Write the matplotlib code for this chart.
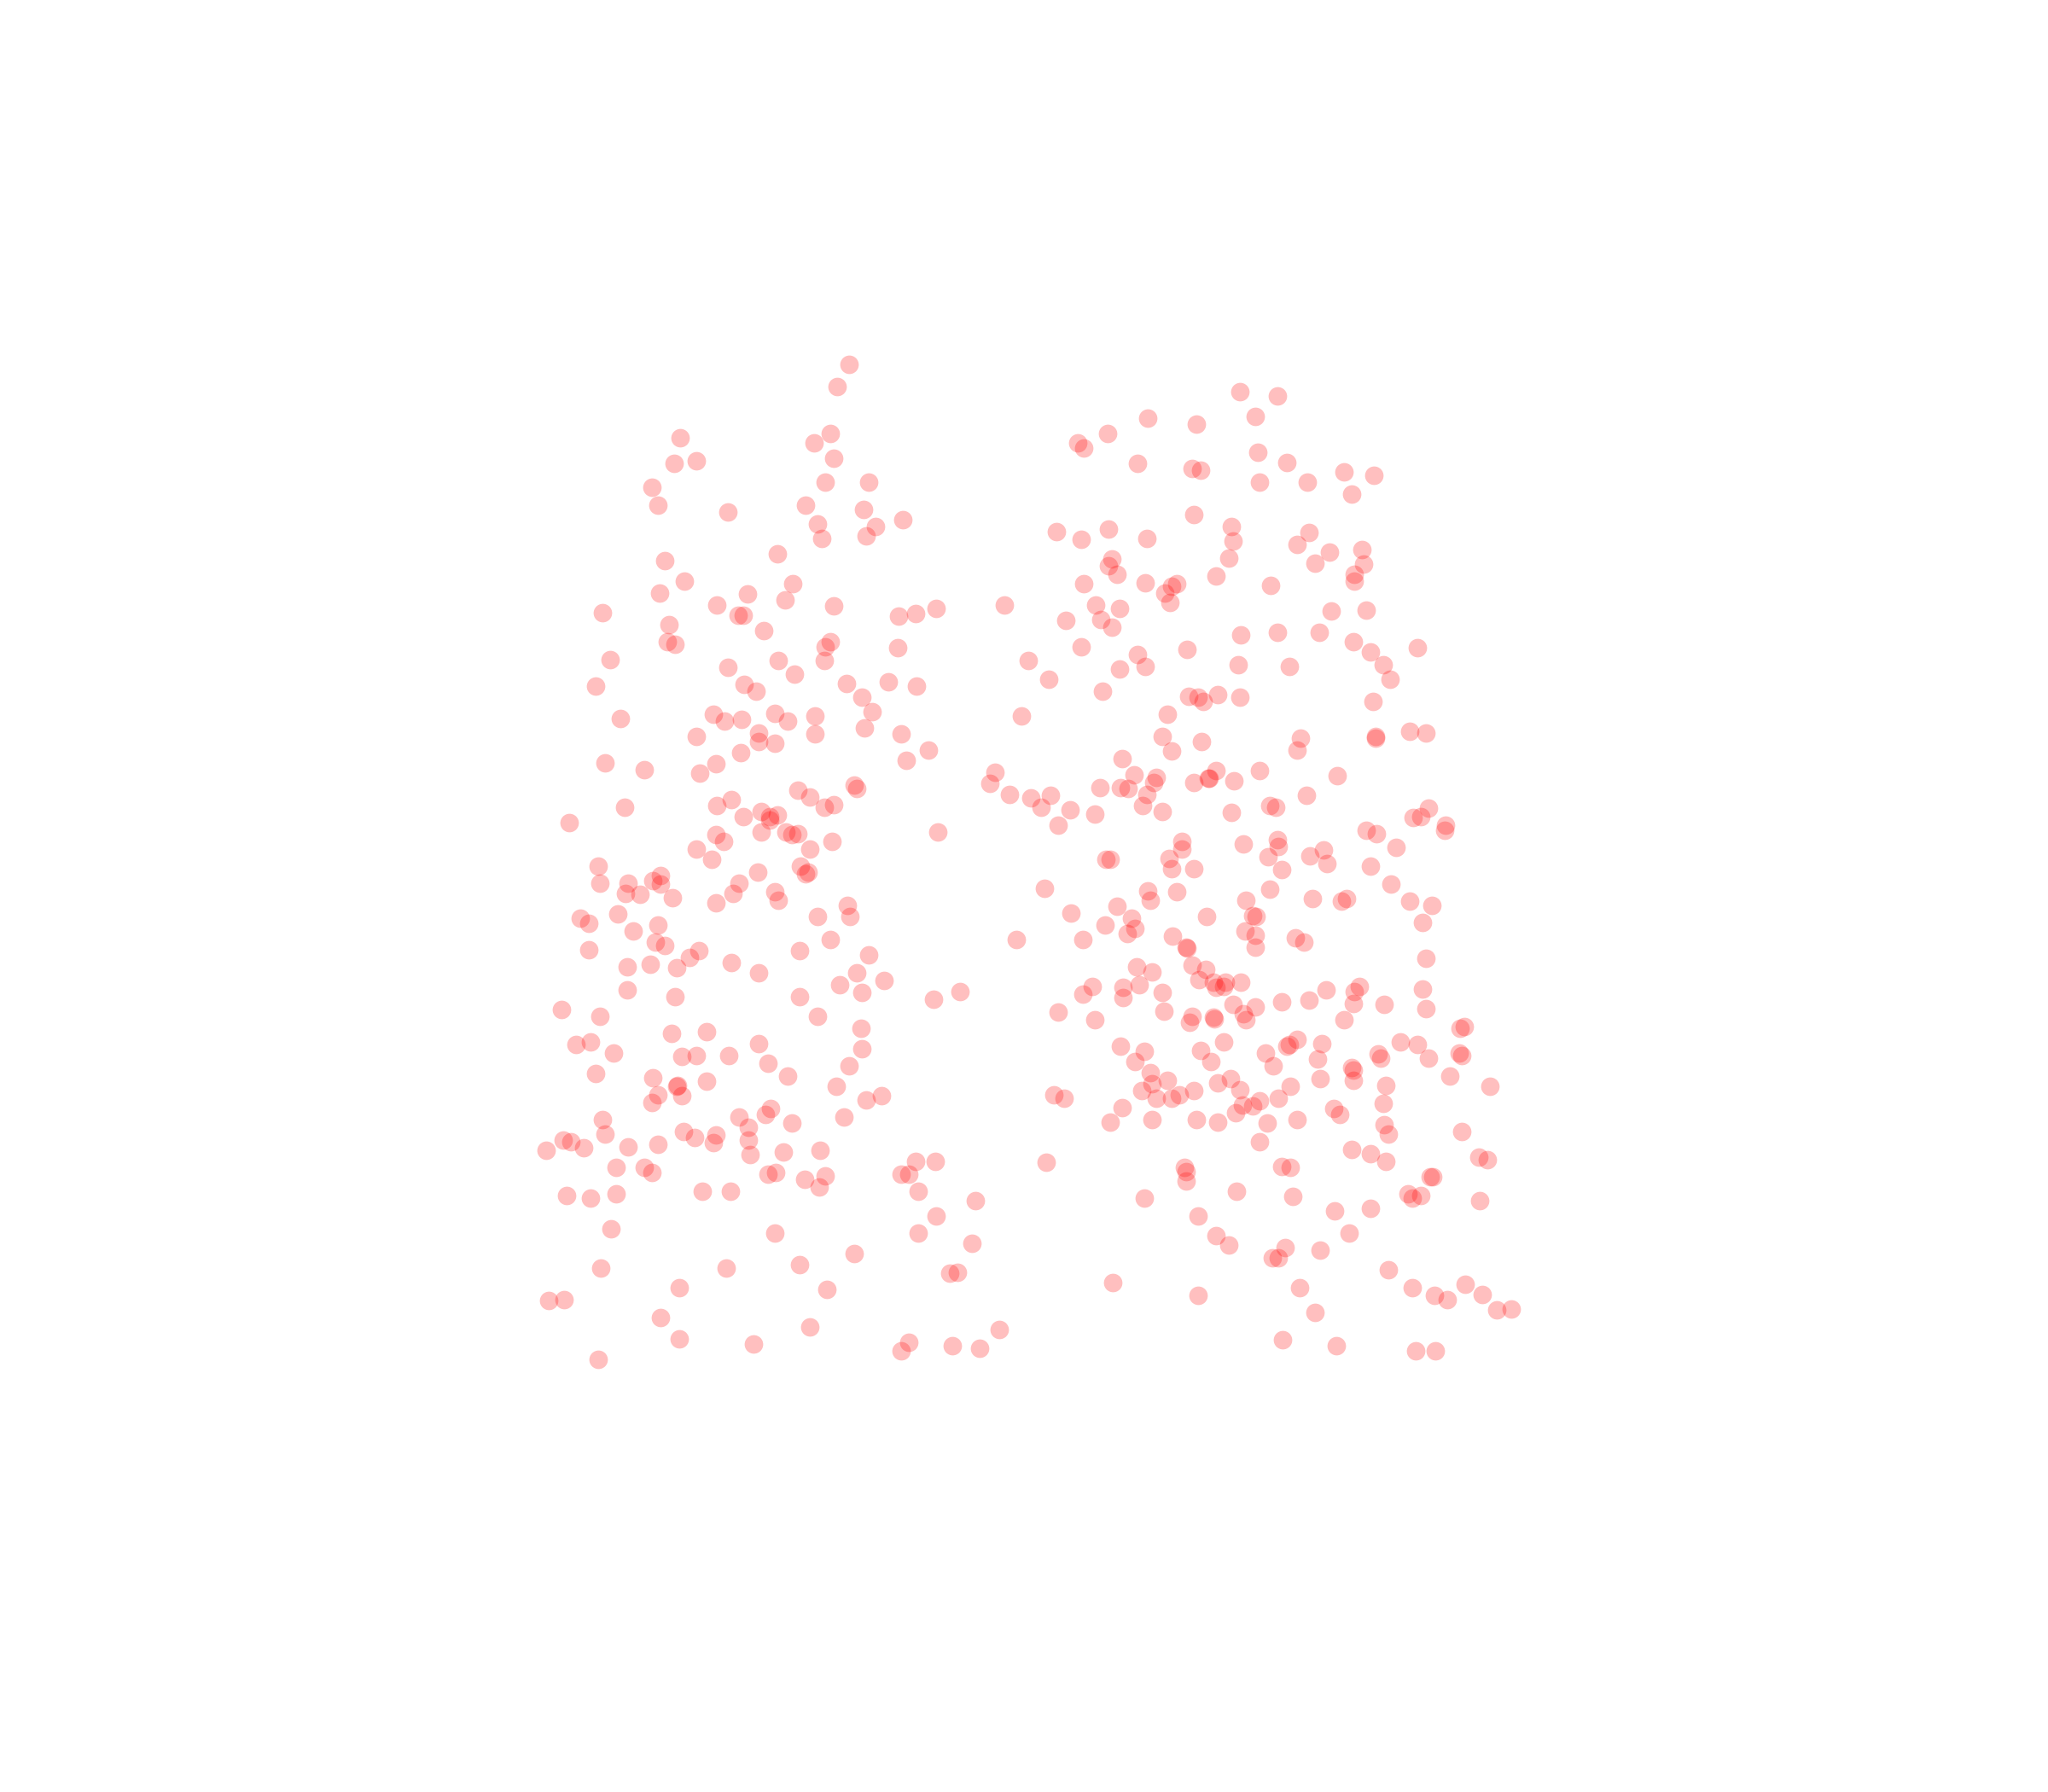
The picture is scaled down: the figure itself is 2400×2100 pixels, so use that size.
import matplotlib
matplotlib.use("Agg")
import matplotlib.pyplot as plt

# points, grouped by the two clusters
left_x = [650,641,521,636,623,638,516,533,499,504,632,665,617,661,557,691,626,670,663,629,595,509,524,607,505,572,601,549,638,461,565,569,688,701,717,769,512,585,511,517,636,632,687,467,596,631,557,608,456,570,579,648,680,702,660,668,475,546,555,568,593,603,624,662,533,581,581,593,624,690,567,711,694,463,548,493,536,654,656,611,620,638,631,549,560,478,436,569,583,589,595,589,583,602,606,611,637,718,548,554,533,545,620,613,617,619,458,459,506,500,506,481,479,490,515,566,580,561,548,593,596,649,651,626,444,451,473,485,504,502,509,451,535,528,518,498,480,560,581,612,636,665,656,643,677,660,480,517,612,715,735,430,459,626,659,514,541,441,452,581,660,470,522,533,558,588,650,456,500,518,519,541,603,640,504,522,499,663,675,566,586,590,461,573,606,646,463,523,532,548,546,573,431,437,447,418,481,504,574,600,628,472,493,499,588,594,616,632,627,701,716,690,696,703,434,452,472,538,559,747,717,468,593,703,744,654,612,460,556,727,733,520,633,420,432,506,620,765,520,577,696,690,729,750,458]
left_y = [279,296,335,332,339,351,355,353,373,387,369,369,387,390,392,398,401,403,410,412,424,429,445,447,454,455,459,463,464,469,471,471,472,470,466,463,478,483,491,493,491,495,496,505,506,506,511,516,525,524,529,523,522,525,534,545,550,547,552,551,546,552,548,557,564,561,568,569,562,562,576,574,582,584,585,589,592,601,604,605,610,616,618,617,612,618,630,625,621,625,624,628,637,637,639,638,644,637,639,644,650,658,650,663,669,668,663,676,670,674,677,676,684,685,687,676,668,684,691,683,689,693,702,702,703,707,700,713,708,721,724,727,728,733,741,738,740,737,745,728,719,731,745,754,751,760,758,763,763,765,759,773,778,778,787,791,790,800,798,799,803,806,809,808,808,814,816,822,825,832,831,828,824,832,838,839,844,842,839,855,853,849,857,863,860,855,868,866,871,869,875,873,873,874,879,881,878,876,884,882,881,894,894,898,899,898,903,900,909,889,889,899,899,912,915,917,914,912,912,919,931,941,944,944,952,960,968,971,971,975,974,986,987,996,995,1009,1016,1018,1025,1029,1028,1034,1030,1032,1041]

right_x = [949,978,879,916,961,825,830,848,963,985,871,913,919,1029,1052,964,1001,1035,914,809,828,849,878,943,944,993,1002,1043,1018,1007,1044,941,851,849,855,830,877,901,897,892,896,931,973,1037,1037,839,857,816,843,851,1019,1046,978,950,1010,828,871,909,1036,1049,1085,787,857,877,948,987,1059,803,1064,844,910,917,921,932,949,1051,782,894,890,920,897,996,993,1053,1053,1079,1092,859,762,758,868,885,883,914,925,926,931,945,964,1024,842,858,864,878,773,789,804,797,819,838,875,890,810,1000,972,977,943,1094,1082,1088,1107,1106,1046,1054,978,979,952,905,905,1069,1013,1003,971,895,847,850,1016,897,914,981,1049,1065,800,879,881,901,972,954,1005,1031,1027,1079,1096,855,820,866,846,869,863,924,959,962,1089,953,961,992,998,778,829,898,908,909,961,1092,870,882,913,923,918,836,829,860,872,860,890,929,931,937,938,950,1015,1041,1037,1089,1036,1060,981,1002,944,961,952,954,810,838,891,913,911,929,930,1092,1029,1118,1121,858,876,919,937,985,987,993,969,1012,1072,1085,1055,1057,1009,1094,1117,1119,869,927,975,881,1035,1036,1036,1011,1110,1061,1141,882,894,874,932,942,914,949,988,807,815,885,897,903,951,946,959,964,979,1059,1021,1026,859,850,882,916,932,970,993,1060,1063,1119,964,1035,1049,1061,1132,1139,801,907,908,908,981,988,1095,1097,947,876,990,1078,1081,1088,1133,1022,1049,917,931,941,1033,984,1011,974,979,1063,852,995,1081,1098,1108,1122,1135,917,1146,1157,1007,982,1023,1084,1099]
right_y = [300,303,320,325,319,339,343,332,346,354,355,359,360,361,364,369,369,378,394,407,413,405,412,403,414,417,408,421,423,431,432,427,428,433,440,447,446,447,449,454,461,441,448,440,445,463,466,475,474,480,468,467,484,486,484,495,501,497,491,499,496,506,512,510,509,510,509,520,520,529,533,534,537,532,534,537,548,547,564,568,575,565,574,564,565,560,561,581,591,600,593,595,599,599,596,596,590,598,590,594,603,603,604,608,608,611,609,618,620,623,617,621,632,609,617,618,622,619,626,625,632,636,636,638,643,648,646,644,650,649,651,655,656,657,658,658,661,665,665,666,663,677,680,682,689,683,681,689,688,688,690,690,693,694,699,703,708,711,715,702,701,702,706,713,716,718,721,719,719,717,725,726,725,734,740,744,739,742,750,755,761,756,754,764,760,752,756,755,752,752,758,755,759,757,768,769,767,766,769,771,776,781,775,781,774,778,783,779,780,772,781,787,786,801,805,804,798,801,800,796,806,799,798,800,807,810,811,810,806,808,813,813,816,821,817,819,827,826,824,831,832,830,827,835,829,826,835,834,832,838,841,841,841,838,846,852,847,843,841,845,849,853,848,859,857,857,859,860,857,861,868,866,874,880,883,889,886,888,890,894,897,904,893,894,901,901,912,917,916,914,917,915,919,927,925,931,946,953,944,955,957,963,963,972,982,986,986,992,995,983,991,992,1003,1002,1005,1026,1030,1034,1034]

fig = plt.figure()
fig.set_size_inches(24, 21)
ax = fig.add_axes([0, 0, 1, 1])
ax.scatter(left_x + right_x, left_y + right_y, s=245, color="red", alpha=0.25, linewidths=0)
ax.set_xlim(0, 1568)
ax.set_ylim(1372, 0)
ax.axis("off")
fig.savefig("out.png", dpi=100)
